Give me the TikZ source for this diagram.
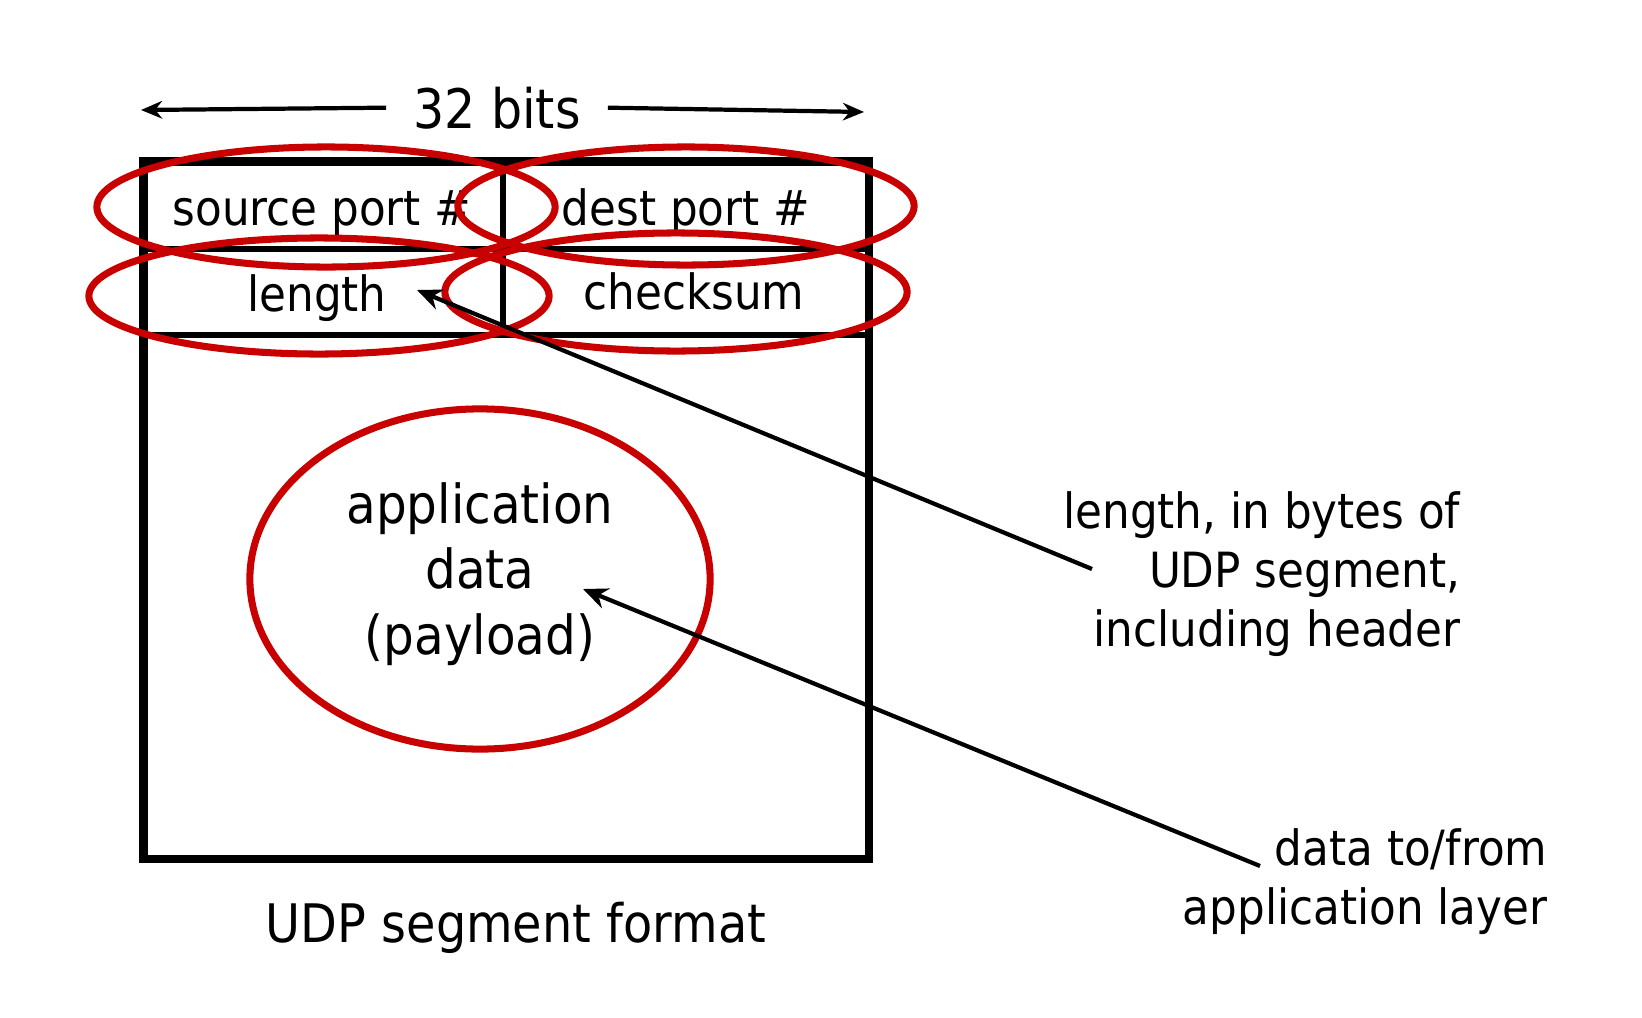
\documentclass[tikz,border=0pt]{standalone}
\usepackage{fontspec}
\setmainfont[FakeStretch=0.9]{DejaVu Sans}
\usepackage{tikz}
\usetikzlibrary{arrows.meta, shapes.geometric, positioning}
\definecolor{ringred}{RGB}{200,0,0}
\tikzset{
    pointer/.style = {line width=1.2pt, -{Stealth[length=7pt,width=6pt]}}, % arrow from a note to its field
    span/.style = {line width=1.2pt, -{Stealth[length=6pt,width=5pt]}}, % the 32 bits width arrows
    ring/.style = {ellipse, draw=ringred, line width=2pt, inner sep=0pt}, % red ellipse round a field
    field/.style = {font=\fontsize{13.8}{17}\selectfont, inner sep=0pt, anchor=base},
    note/.style = {font=\fontsize{13.8}{16.8}\selectfont, align=right, anchor=east, inner sep=0pt}
}
\begin{document}
\begin{tikzpicture}[x=0.01cm, y=-0.01cm]
    \useasboundingbox (0,0) rectangle (1642,1018);
    % segment frame and header rows
    \draw[line width=2.3pt] (143.5,161.5) rectangle (869,859);
    \draw[line width=1.6pt] (143.5,249) -- (869,249);
    \draw[line width=1.6pt] (143.5,335) -- (869,335);
    \draw[line width=1.6pt] (503,161.5) -- (503,335);
    % header fields
    \node[field] (srcport) at (322,225) {source port \#};
    \node[field] (dstport) at (686,225) {dest port \#};
    \node[field] (lentxt) at (317,311) {length};
    \node[field] (chksum) at (694,309) {checksum};
    \node[font=\fontsize{15.3}{18.6}\selectfont, align=center] (payload) at (480,574) {application\\data\\(payload)};
    % red rings
    \node[ring, minimum width=4.58cm, minimum height=1.2cm] (srcring) at (326,207) {};
    \node[ring, minimum width=4.56cm, minimum height=1.18cm] (dstring) at (686,206) {};
    \node[ring, minimum width=4.6cm, minimum height=1.16cm] (lenring) at (319,296) {};
    \node[ring, minimum width=4.62cm, minimum height=1.18cm] (sumring) at (676,292) {};
    \node[ring, minimum width=4.6cm, minimum height=3.4cm] (payring) at (480,579) {};
    % width of the segment
    \node[font=\fontsize{15.5}{18}\selectfont, inner xsep=7.5pt, inner ysep=0pt, anchor=base] (bits) at (497,128) {32 bits};
    \coordinate (bitsL) at (141,110);
    \coordinate (bitsR) at (864,112);
    \draw[span] (bits.west) -- (bitsL);
    \draw[span] (bits.east) -- (bitsR);
    % notes on the right
    \node[note] (lennote) at (1461,574) {length, in bytes of\\UDP segment,\\including header};
    \node[note] (datanote) at (1548,882) {data to/from\\application layer};
    \node[font=\fontsize{15.1}{17}\selectfont, anchor=base] (caption) at (516,942) {UDP segment format};
    \coordinate (lenfoot) at (1092,569);
    \coordinate (lentip) at (417,290);
    \coordinate (datafoot) at (1260,866);
    \coordinate (datatip) at (583,589);
    \draw[pointer] (lenfoot) -- (lentip);
    \draw[pointer] (datafoot) -- (datatip);
\end{tikzpicture}
\end{document}
